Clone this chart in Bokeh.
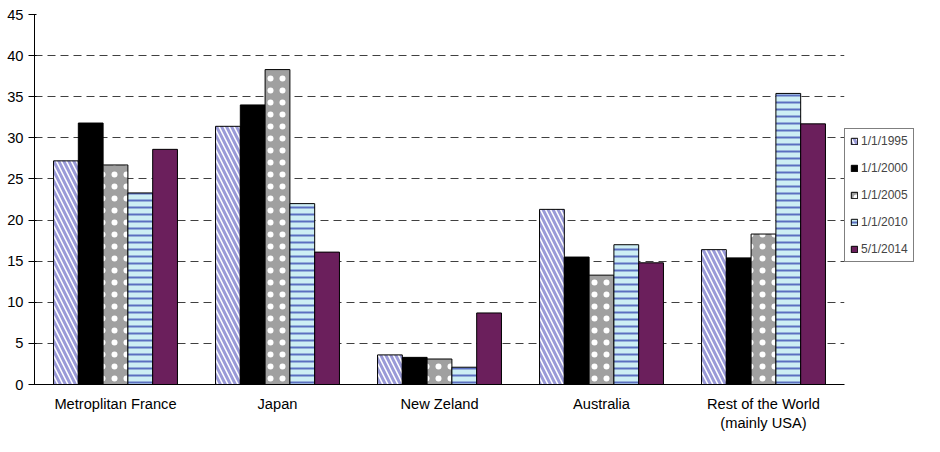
from bokeh.plotting import figure
from bokeh.models import FactorRange, Legend, LegendItem, SingleIntervalTicker
from bokeh.transform import dodge
from bokeh.embed import file_html
from bokeh.resources import INLINE

regions = ["Metroplitan France", "Japan", "New Zeland", "Australia", "Rest of the World\n(mainly USA)"]
dates = ["1/1/1995", "1/1/2000", "1/1/2005", "1/1/2010", "5/1/2014"]
v1995 = [27.2, 31.4, 3.6, 21.3, 16.4]
v2000 = [31.8, 34.0, 3.3, 15.5, 15.4]
v2005 = [26.7, 38.3, 3.1, 13.3, 18.3]
v2010 = [23.3, 22.0, 2.1, 17.0, 35.4]
v2014 = [28.6, 16.1, 8.7, 14.8, 31.7]

p = figure(x_range=FactorRange(*regions, range_padding=0), y_range=(0, 45),
           frame_width=810, frame_height=370, output_backend="svg", toolbar_location=None,
           min_border_left=34, min_border_top=14, min_border_right=0, min_border_bottom=40)
p.outline_line_color = None
p.xgrid.grid_line_color = None
p.ygrid.grid_line_color = "#404040"
p.ygrid.grid_line_dash = "8 5"
p.yaxis.ticker = SingleIntervalTicker(interval=5)
for ax in (p.xaxis, p.yaxis):
    ax.axis_line_color = "black"
    ax.major_label_text_font = "Liberation Sans"
    ax.major_label_text_font_size = "11pt"
    ax.major_label_text_color = "black"
    ax.minor_tick_line_color = None
p.xaxis.major_tick_line_color = None

styles = [
    dict(fill_color="white", hatch_pattern="\\", hatch_color="#9A9AD8", hatch_weight=3, hatch_scale=10),
    dict(fill_color="black"),
    dict(fill_color="#A0A0A0", hatch_pattern="dot", hatch_color="white", hatch_weight=5, hatch_scale=12),
    dict(fill_color="#CDEEF4", hatch_pattern="horizontal_line", hatch_color="#5B6FC0", hatch_weight=2, hatch_scale=7),
    dict(fill_color="#6B1F5C"),
]
series = [v1995, v2000, v2005, v2010, v2014]
w = 0.153
items = []
for i, (d, vals, st) in enumerate(zip(dates, series, styles)):
    data = {"x": regions, "top": vals}
    r = p.vbar(x=dodge("x", (i - 2) * w, range=p.x_range), top="top", width=w, source=data,
               line_color="black", line_width=1, **st)
    items.append(LegendItem(label=d, renderers=[r]))

leg = Legend(items=items, border_line_color="black", label_text_font="Liberation Sans",
             label_text_font_size="9pt", glyph_width=8, glyph_height=8, spacing=13,
             padding=5, margin=6, label_standoff=3, label_height=12, location=(0, 122))
p.add_layout(leg, "right")

open("out.html", "w").write(file_html(p, INLINE))
